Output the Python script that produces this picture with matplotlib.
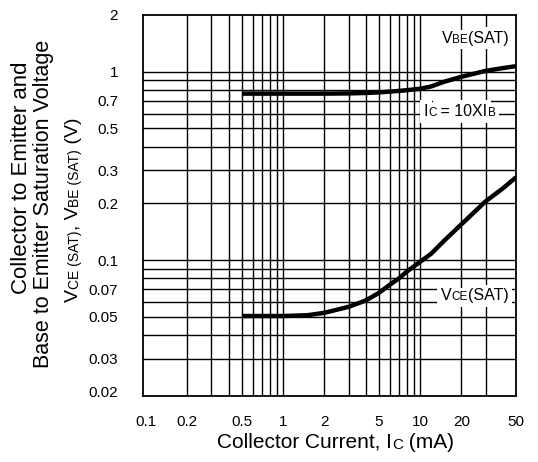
import matplotlib
matplotlib.use('Agg')
import matplotlib.pyplot as plt
from matplotlib.ticker import FixedLocator, FixedFormatter, NullFormatter

plt.rcParams['font.family'] = ['Liberation Sans', 'DejaVu Sans']

# collector current (mA) and saturation voltages (V)
ic_vbe = [0.5, 1, 2, 3, 4, 5, 6, 7, 8, 10, 12, 15, 20, 30, 40, 50]
vbe_sat = [0.765, 0.765, 0.765, 0.767, 0.771, 0.777, 0.784, 0.791, 0.798,
           0.812, 0.835, 0.885, 0.94, 1.01, 1.045, 1.07]

ic_vce = [0.5, 1, 1.5, 2, 3, 4, 5, 6, 7, 8, 10, 12, 15, 20, 30, 40, 50]
vce_sat = [0.0505, 0.0505, 0.051, 0.0525, 0.0565, 0.061, 0.067, 0.074, 0.080,
           0.087, 0.098, 0.108, 0.127, 0.155, 0.205, 0.24, 0.275]

x_ticks = [0.1, 0.2, 0.5, 1, 2, 5, 10, 20, 50]
x_labels = ['0.1', '0.2', '0.5', '1', '2', '5', '10', '20', '50']
x_grid = [0.2, 0.3, 0.4, 0.5, 0.6, 0.7, 0.8, 0.9, 1, 2, 3, 4, 5, 6, 7, 8, 9, 10, 20, 30]

y_ticks = [0.02, 0.03, 0.05, 0.07, 0.1, 0.2, 0.3, 0.5, 0.7, 1, 2]
y_labels = ['0.02', '0.03', '0.05', '0.07', '0.1', '0.2', '0.3', '0.5', '0.7', '1', '2']
y_grid = [0.03, 0.04, 0.05, 0.06, 0.07, 0.08, 0.09, 0.1, 0.2, 0.3, 0.4, 0.5,
          0.6, 0.7, 0.8, 0.9, 1]


def chain(ax, x, y, parts, coords, rotation=0, box=False, zorder=5):
    # text made of pieces in two sizes (datasheet style small caps subscripts)
    kw = dict(rotation=rotation, zorder=zorder, annotation_clip=False)
    if box:
        kw['color'] = 'white'
        kw['bbox'] = dict(fc='white', ec='none', pad=2.5)
    if rotation == 90:
        ha, va, nxt = 'right', 'bottom', (1, 1)
    else:
        ha, va, nxt = 'left', 'bottom', (1, 0)
    prev = None
    for s, fs in parts:
        if prev is None:
            prev = ax.annotate(s, xy=(x, y), xycoords=coords, fontsize=fs,
                               ha=ha, va=va, **kw)
        else:
            prev = ax.annotate(s, xy=nxt, xycoords=prev, fontsize=fs,
                               ha=ha, va=va, **kw)


fig = plt.figure(figsize=(5.38, 4.62), dpi=100)
ax = fig.add_axes([143 / 538, 1 - 396 / 462, 373 / 538, 381 / 462])
ax.set_xscale('log')
ax.set_yscale('log')
ax.set_xlim(0.095, 50)
ax.set_ylim(0.019, 2)

ax.xaxis.set_major_locator(FixedLocator(x_ticks))
ax.xaxis.set_major_formatter(FixedFormatter(x_labels))
ax.xaxis.set_minor_locator(FixedLocator(x_grid))
ax.xaxis.set_minor_formatter(NullFormatter())
ax.yaxis.set_major_locator(FixedLocator(y_ticks))
ax.yaxis.set_major_formatter(FixedFormatter(y_labels))
ax.yaxis.set_minor_locator(FixedLocator(y_grid))
ax.yaxis.set_minor_formatter(NullFormatter())
# keep grid lines that sit on labelled values
ax.xaxis.remove_overlapping_locs = False
ax.yaxis.remove_overlapping_locs = False

ax.grid(True, which='minor', color='black', lw=1.0)
ax.grid(False, which='major')
ax.tick_params(which='both', length=0, labelsize=11)
ax.tick_params(axis='x', pad=14)
ax.tick_params(axis='y', pad=18)
for sp in ax.spines.values():
    sp.set_linewidth(1.3)

ax.plot(ic_vbe, vbe_sat, color='black', lw=3.2, solid_capstyle='butt', zorder=3)
ax.plot(ic_vce, vce_sat, color='black', lw=3.2, solid_capstyle='butt', zorder=3)

big, small = 11.5, 8.5
labels = [
    (0.801, 0.919, [('V', big), ('BE', small), ('(SAT)', big)]),
    (0.752, 0.727, [('I', big), ('C', small), (' = 10XI', big), ('B', small)]),
    (0.798, 0.243, [('V', big), ('CE', small), ('(SAT)', big)]),
]
for lx, ly, parts in labels:
    chain(ax, lx, ly, parts, 'axes fraction', box=True, zorder=4)
    chain(ax, lx, ly, parts, 'axes fraction', zorder=5)

# axis titles
fig.text(22 / 538, 1 - 177.5 / 462, 'Collector to Emitter and', rotation=90,
         ha='center', va='center', fontsize=16)
fig.text(44 / 538, 1 - 204 / 462, 'Base to Emitter Saturation Voltage',
         rotation=90, ha='center', va='center', fontsize=15.5)
chain(ax, 82 / 538, 1 - 302 / 462,
      [('V', 14), ('CE (SAT)', 10), (', V', 14), ('BE (SAT)', 10), (' (V)', 14)],
      'figure fraction', rotation=90)
chain(ax, 217 / 538, 10 / 462,
      [('Collector Current, I', 15), ('C', 11), (' (mA)', 15)],
      'figure fraction')

fig.savefig('out.png', dpi=100)
